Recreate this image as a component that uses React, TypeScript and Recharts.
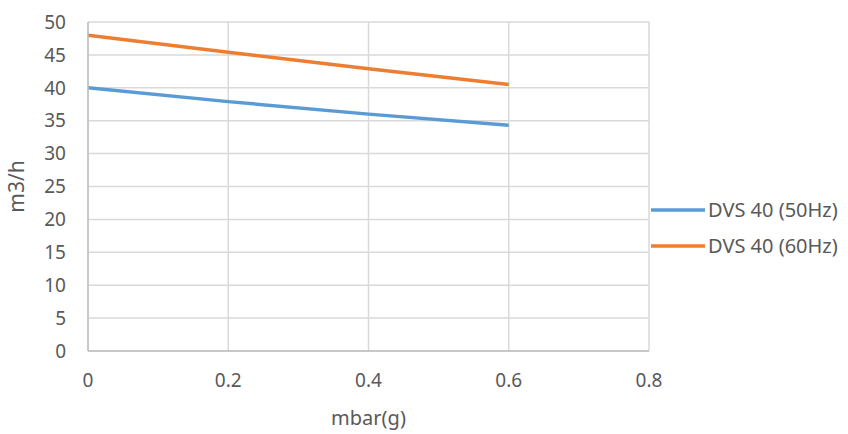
import { LineChart, Line, XAxis, YAxis, CartesianGrid, Legend } from 'recharts';

const pressure = [0, 0.2, 0.4, 0.6];
const flow50Hz = [40, 37.9, 36, 34.3];
const flow60Hz = [48, 45.4, 42.9, 40.5];
const xTicks = [0, 0.2, 0.4, 0.6, 0.8];
const yTicks = [0, 5, 10, 15, 20, 25, 30, 35, 40, 45, 50];

const data = pressure.map((p, i) => ({ p, a: flow50Hz[i], b: flow60Hz[i] }));

const FONT = 'Noto Sans, sans-serif';
const TEXT = '#595959';

function LegendBox({ payload }: any) {
  return (
    <div style={{ fontFamily: FONT, fontSize: 20, color: TEXT, lineHeight: 1 }}>
      {(payload || []).map((item: any) => (
        <div key={item.value} style={{ display: 'flex', alignItems: 'center', height: 36 }}>
          <svg width={58} height={6} style={{ flexShrink: 0 }}>
            <line x1={1} x2={55} y1={3} y2={3} stroke={item.color} strokeWidth={3.5} />
          </svg>
          <span style={{ whiteSpace: 'nowrap' }}>{item.value}</span>
        </div>
      ))}
    </div>
  );
}

export default function App() {
  return (
    <div style={{ position: 'absolute', left: 0, top: 0, width: 848, height: 434, background: '#fff' }}>
      <LineChart width={848} height={434} data={data} margin={{ top: 22, right: 199, left: 0, bottom: 0 }}>
        <CartesianGrid stroke="#d9d9d9" strokeWidth={1.5} />
        <XAxis
          dataKey="p"
          type="number"
          domain={[0, 0.8]}
          ticks={xTicks}
          stroke="#bfbfbf"
          strokeWidth={1.5}
          tickLine={false}
          tickSize={0}
          tickMargin={23}
          height={83}
          tick={{ fill: TEXT, fontSize: 19, fontFamily: FONT }}
          label={(props: any) => {
            const vb = props.viewBox;
            return (
              <text
                x={vb.x + vb.width / 2}
                y={vb.y + 74}
                textAnchor="middle"
                fill={TEXT}
                fontSize={20}
                fontFamily={FONT}
              >
                mbar(g)
              </text>
            );
          }}
        />
        <YAxis
          type="number"
          domain={[0, 50]}
          ticks={yTicks}
          stroke="#bfbfbf"
          strokeWidth={1.5}
          tickLine={false}
          tickSize={0}
          tickMargin={22}
          width={88}
          tick={{ fill: TEXT, fontSize: 19, fontFamily: FONT }}
          label={(props: any) => {
            const vb = props.viewBox;
            const cx = 24;
            const cy = vb.y + vb.height / 2;
            return (
              <text
                x={cx}
                y={cy}
                transform={`rotate(-90, ${cx}, ${cy})`}
                textAnchor="middle"
                fill={TEXT}
                fontSize={21}
                fontFamily={FONT}
              >
                m3/h
              </text>
            );
          }}
        />
        <Legend
          layout="horizontal"
          align="center"
          verticalAlign="middle"
          wrapperStyle={{ left: 650, top: 192, width: 198 }}
          content={<LegendBox />}
        />
        <Line
          dataKey="a"
          name="DVS 40 (50Hz)"
          stroke="#5b9bd5"
          strokeWidth={3.5}
          dot={false}
          type="monotone"
          isAnimationActive={false}
        />
        <Line
          dataKey="b"
          name="DVS 40 (60Hz)"
          stroke="#ed7d31"
          strokeWidth={3.5}
          dot={false}
          type="monotone"
          isAnimationActive={false}
        />
      </LineChart>
    </div>
  );
}
